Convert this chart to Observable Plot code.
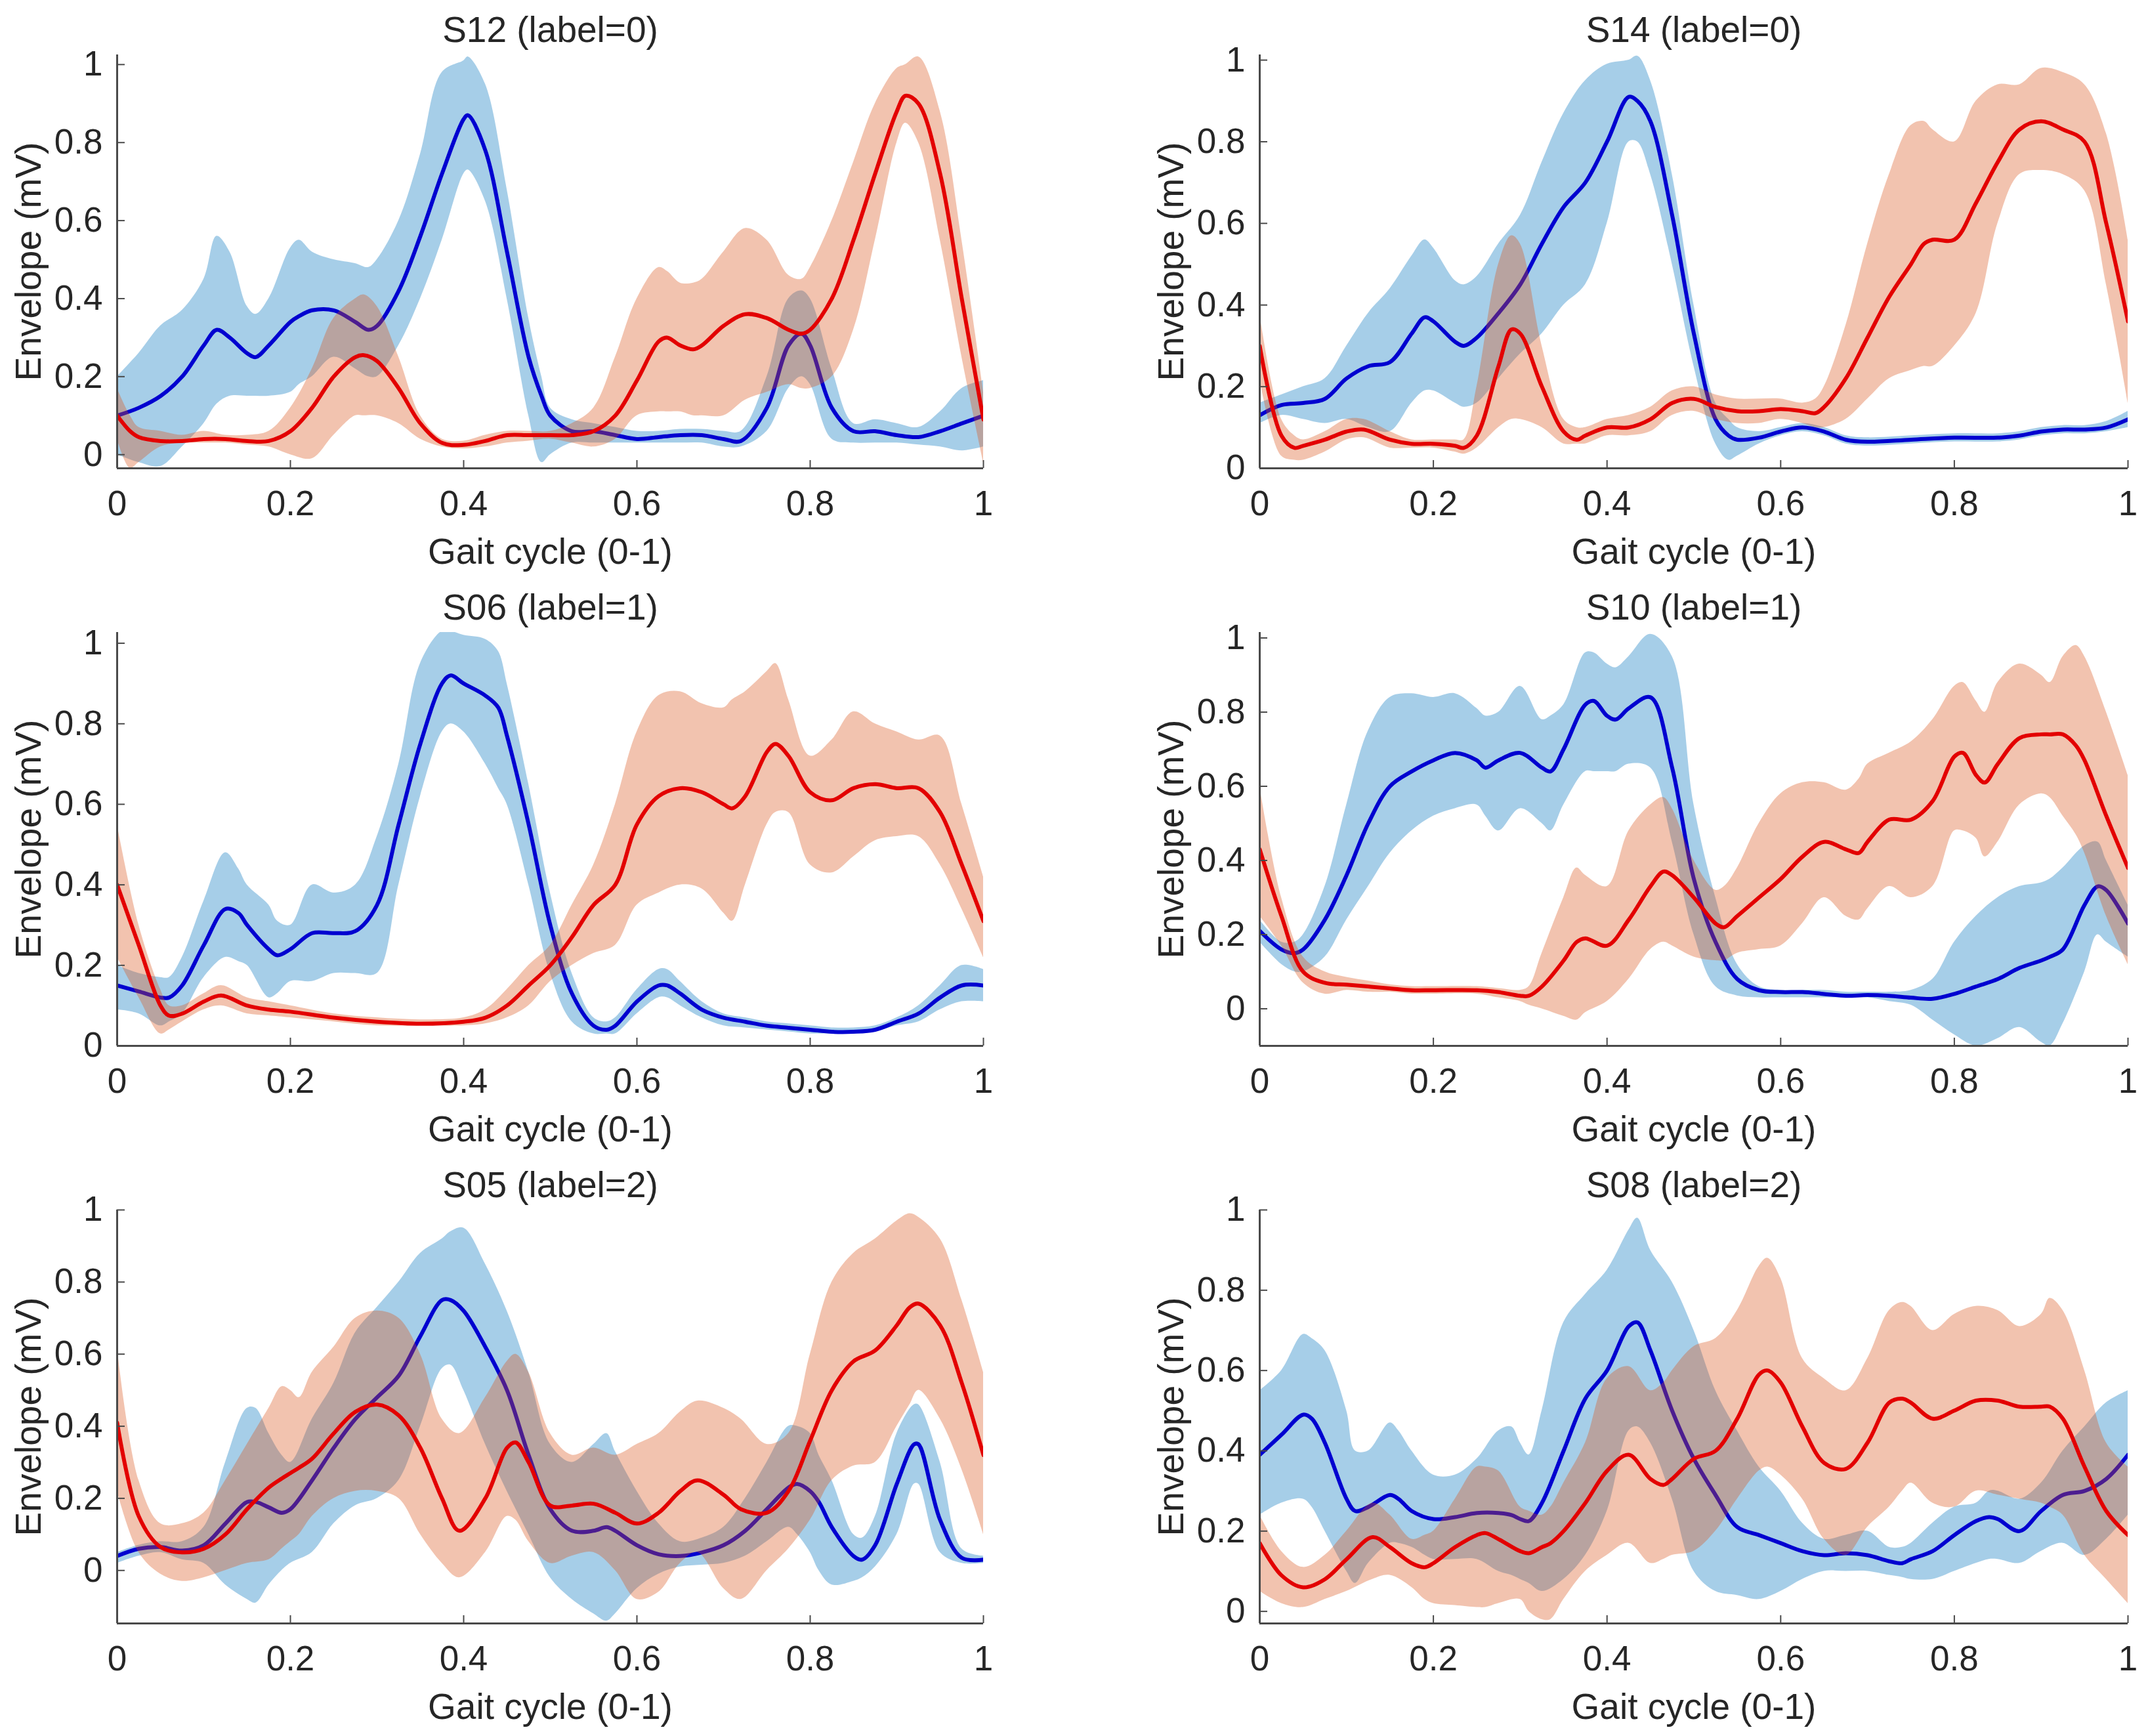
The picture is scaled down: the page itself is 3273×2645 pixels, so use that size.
<!DOCTYPE html>
<html>
<head>
<meta charset="utf-8">
<script src="https://cdn.jsdelivr.net/npm/d3@7"></script>
<script src="https://cdn.jsdelivr.net/npm/@observablehq/plot@0.6"></script>
<style>
  html, body { margin: 0; padding: 0; background: #fff; }
  #chart { position: relative; width: 3273px; height: 2645px; background: #fff; overflow: hidden; }
</style>
</head>
<body>
<div id="chart"></div>
<script>
// ---------- data: rows are [gait cycle, mean, lower band, upper band] ----------
const S12_blue = [
[0,.10,.00,.20],[.025,.12,-.02,.26],[.05,.15,-.03,.33],[.075,.20,.02,.37],[.1,.28,.08,.45],
[.115,.32,.13,.56],[.13,.30,.15,.52],[.15,.26,.15,.38],[.16,.25,.15,.36],[.175,.28,.15,.40],
[.2,.34,.16,.53],[.21,.355,.18,.55],[.225,.37,.20,.52],[.25,.37,.25,.50],[.275,.34,.22,.49],
[.29,.32,.20,.48],[.3,.33,.20,.50],[.325,.42,.28,.60],[.35,.56,.40,.77],[.375,.72,.55,.98],
[.4,.86,.72,1.01],[.405,.87,.73,1.02],[.425,.78,.65,.95],[.45,.52,.40,.68],[.475,.25,.10,.35],
[.49,.15,-.02,.20],[.5,.10,.00,.12],[.525,.06,.03,.09],[.55,.06,.03,.08],[.575,.05,.03,.07],
[.6,.04,.03,.06],[.625,.045,.03,.06],[.65,.05,.03,.065],[.675,.05,.03,.065],[.7,.04,.02,.06],
[.72,.035,.02,.06],[.75,.12,.06,.20],[.775,.28,.17,.40],[.79,.31,.20,.42],[.8,.28,.18,.40],
[.825,.12,.04,.22],[.85,.06,.03,.08],[.875,.06,.03,.09],[.9,.05,.03,.08],[.925,.045,.025,.07],
[.95,.06,.02,.11],[.975,.08,.01,.17],[1,.10,.02,.19]
];
const S12_red = [
[0,.10,.04,.17],[.015,.06,-.035,.10],[.025,.045,-.02,.07],[.05,.035,.02,.06],[.075,.035,.03,.05],
[.1,.04,.03,.06],[.125,.04,.03,.05],[.15,.035,.025,.05],[.175,.035,.02,.06],[.2,.06,.00,.12],
[.225,.12,-.01,.22],[.25,.20,.05,.35],[.275,.25,.10,.40],[.285,.255,.10,.41],[.3,.24,.10,.38],
[.325,.17,.08,.25],[.35,.08,.04,.10],[.375,.03,.02,.04],[.4,.025,.015,.035],[.425,.035,.02,.05],
[.45,.05,.03,.06],[.475,.05,.035,.06],[.5,.05,.04,.06],[.525,.05,.03,.08],[.55,.06,.02,.12],
[.575,.10,.04,.25],[.6,.19,.10,.40],[.625,.29,.11,.48],[.635,.30,.11,.47],[.65,.28,.11,.44],
[.665,.27,.10,.44],[.675,.28,.10,.45],[.7,.33,.10,.52],[.725,.36,.14,.58],[.75,.35,.16,.55],
[.775,.32,.18,.46],[.79,.31,.17,.45],[.8,.32,.17,.48],[.825,.40,.20,.60],[.85,.55,.32,.75],
[.875,.72,.55,.90],[.9,.88,.80,.99],[.91,.92,.85,1.0],[.925,.90,.80,1.02],[.95,.72,.55,.88],
[.975,.40,.25,.55],[1,.09,-.02,.16]
];
const S14_blue = [
[0,.13,.11,.16],[.025,.155,.13,.18],[.05,.16,.12,.20],[.075,.17,.11,.22],[.1,.22,.12,.30],
[.125,.25,.10,.38],[.15,.26,.09,.44],[.175,.33,.16,.52],[.19,.37,.19,.56],[.2,.36,.19,.54],
[.225,.31,.16,.46],[.235,.30,.15,.45],[.25,.32,.16,.47],[.275,.38,.22,.55],[.3,.45,.28,.62],
[.325,.55,.33,.75],[.35,.64,.40,.87],[.375,.70,.45,.95],[.4,.80,.60,.99],[.425,.91,.80,1.0],
[.435,.90,.80,1.01],[.45,.85,.72,.95],[.475,.62,.50,.72],[.5,.33,.25,.40],[.525,.12,.06,.16],
[.54,.08,.02,.12],[.55,.07,.03,.10],[.575,.075,.06,.09],[.6,.09,.08,.10],[.625,.10,.09,.11],
[.65,.09,.08,.10],[.675,.07,.06,.08],[.7,.065,.055,.075],[.75,.07,.06,.08],[.8,.075,.065,.085],
[.85,.075,.065,.085],[.875,.08,.07,.09],[.9,.09,.08,.10],[.925,.095,.085,.105],[.95,.095,.085,.105],
[.975,.10,.09,.115],[1,.12,.10,.14]
];
const S14_red = [
[0,.30,.22,.38],[.025,.08,.03,.12],[.04,.05,.02,.08],[.05,.055,.02,.07],[.075,.07,.04,.09],
[.1,.09,.07,.12],[.12,.095,.075,.12],[.15,.07,.05,.09],[.175,.06,.05,.07],[.2,.06,.05,.07],
[.225,.055,.04,.07],[.235,.05,.035,.07],[.25,.08,.05,.20],[.275,.25,.10,.50],[.29,.34,.12,.57],
[.3,.33,.12,.55],[.325,.20,.10,.30],[.35,.09,.06,.12],[.365,.07,.06,.10],[.375,.08,.06,.10],
[.4,.10,.08,.12],[.425,.10,.08,.13],[.45,.12,.09,.15],[.475,.16,.13,.19],[.5,.17,.14,.20],
[.525,.15,.12,.18],[.55,.14,.11,.17],[.575,.14,.11,.17],[.6,.145,.12,.17],[.625,.14,.11,.16],
[.64,.135,.10,.17],[.65,.15,.10,.20],[.675,.22,.12,.35],[.7,.32,.17,.55],[.725,.42,.22,.72],
[.75,.50,.24,.84],[.765,.55,.25,.85],[.775,.56,.25,.83],[.8,.56,.30,.80],[.825,.65,.38,.90],
[.85,.75,.60,.94],[.875,.83,.72,.94],[.9,.85,.73,.98],[.925,.83,.72,.97],[.95,.80,.68,.94],
[.975,.60,.45,.82],[1,.36,.16,.56]
];
const S06_blue = [
[0,.15,.09,.20],[.025,.135,.08,.18],[.05,.12,.05,.17],[.06,.12,.06,.17],[.075,.15,.08,.22],
[.1,.25,.17,.36],[.125,.34,.22,.48],[.14,.33,.21,.44],[.15,.30,.20,.40],[.175,.24,.12,.35],
[.185,.225,.13,.31],[.2,.24,.16,.30],[.225,.28,.16,.40],[.25,.28,.18,.38],[.275,.285,.18,.40],
[.3,.35,.18,.52],[.325,.55,.40,.70],[.35,.75,.62,.95],[.375,.90,.78,1.03],[.385,.92,.80,1.03],
[.4,.90,.78,1.02],[.425,.87,.70,1.01],[.44,.84,.64,.98],[.45,.77,.60,.90],[.475,.55,.40,.65],
[.5,.30,.18,.38],[.525,.13,.06,.18],[.55,.05,.03,.07],[.565,.04,.03,.06],[.575,.05,.03,.07],
[.6,.11,.08,.14],[.625,.15,.12,.19],[.635,.15,.12,.19],[.65,.13,.10,.16],[.675,.09,.07,.11],
[.7,.07,.05,.08],[.725,.06,.045,.07],[.75,.05,.04,.06],[.775,.045,.035,.055],[.8,.04,.03,.05],
[.825,.035,.03,.045],[.85,.035,.03,.045],[.875,.04,.035,.05],[.9,.06,.05,.07],[.925,.08,.06,.10],
[.95,.12,.09,.15],[.975,.15,.11,.20],[1,.15,.11,.19]
];
const S06_red = [
[0,.40,.22,.55],[.025,.25,.12,.30],[.05,.10,.03,.14],[.06,.075,.04,.10],[.075,.08,.06,.10],
[.1,.11,.09,.13],[.12,.125,.10,.15],[.15,.10,.08,.12],[.175,.09,.075,.11],[.2,.085,.07,.10],
[.25,.07,.06,.08],[.3,.06,.05,.07],[.35,.055,.05,.065],[.4,.06,.05,.07],[.425,.07,.055,.09],
[.45,.10,.07,.14],[.475,.15,.10,.20],[.5,.20,.16,.25],[.525,.27,.20,.35],[.55,.35,.23,.45],
[.575,.40,.25,.60],[.6,.55,.35,.78],[.625,.62,.38,.87],[.65,.64,.40,.88],[.675,.63,.39,.85],
[.7,.60,.33,.84],[.71,.59,.31,.86],[.725,.62,.40,.88],[.75,.73,.55,.93],[.76,.75,.58,.95],
[.775,.72,.58,.86],[.8,.63,.45,.72],[.825,.61,.43,.76],[.85,.64,.47,.83],[.875,.65,.51,.80],
[.9,.64,.52,.78],[.925,.64,.52,.76],[.95,.58,.45,.77],[.975,.45,.34,.60],[1,.31,.22,.42]
];
const S10_blue = [
[0,.21,.18,.24],[.025,.16,.12,.18],[.04,.15,.10,.18],[.05,.16,.10,.20],[.075,.24,.14,.33],
[.1,.36,.24,.55],[.125,.50,.33,.75],[.15,.60,.42,.84],[.175,.64,.48,.85],[.2,.67,.52,.84],
[.225,.69,.54,.85],[.25,.67,.55,.81],[.26,.65,.52,.79],[.275,.67,.48,.80],[.3,.69,.54,.87],
[.325,.65,.50,.78],[.335,.64,.48,.79],[.35,.70,.55,.82],[.375,.82,.64,.96],[.385,.83,.64,.96],
[.4,.79,.64,.93],[.41,.78,.64,.92],[.425,.81,.66,.95],[.45,.84,.65,1.01],[.475,.65,.45,.95],
[.5,.35,.20,.55],[.525,.18,.06,.30],[.55,.08,.035,.12],[.575,.05,.03,.06],[.6,.045,.03,.05],
[.625,.045,.03,.05],[.65,.04,.03,.05],[.675,.035,.03,.045],[.7,.037,.03,.045],[.725,.035,.02,.045],
[.75,.03,.01,.05],[.775,.027,-.03,.08],[.8,.04,-.07,.18],[.825,.06,-.10,.25],[.85,.08,-.08,.30],
[.875,.11,-.05,.33],[.9,.13,-.09,.34],[.91,.14,-.10,.35],[.925,.16,-.04,.38],[.95,.28,.10,.44],
[.965,.33,.20,.45],[.975,.32,.18,.40],[1,.23,.14,.28]
];
const S10_red = [
[0,.43,.25,.60],[.025,.25,.17,.30],[.05,.10,.07,.14],[.075,.07,.04,.10],[.1,.065,.05,.085],
[.125,.06,.045,.075],[.15,.055,.045,.065],[.175,.05,.04,.06],[.2,.05,.04,.06],[.25,.05,.04,.06],
[.275,.045,.03,.055],[.3,.035,.02,.05],[.31,.035,.01,.06],[.325,.06,.00,.15],[.35,.13,-.02,.30],
[.365,.18,-.03,.38],[.375,.19,-.01,.36],[.4,.17,.02,.33],[.425,.24,.08,.48],[.45,.33,.16,.55],
[.465,.37,.18,.57],[.475,.36,.17,.54],[.5,.30,.14,.40],[.525,.23,.13,.32],[.535,.22,.13,.33],
[.55,.25,.15,.38],[.575,.30,.16,.50],[.6,.35,.17,.58],[.625,.41,.23,.61],[.65,.45,.30,.61],
[.675,.43,.25,.59],[.69,.42,.24,.62],[.7,.45,.27,.66],[.725,.51,.33,.69],[.75,.51,.30,.72],
[.775,.56,.33,.78],[.8,.68,.48,.87],[.81,.69,.48,.88],[.825,.63,.46,.83],[.835,.61,.41,.80],
[.85,.66,.45,.88],[.875,.73,.55,.93],[.9,.74,.58,.90],[.91,.74,.57,.88],[.925,.74,.52,.95],
[.94,.71,.47,.98],[.95,.67,.42,.95],[.975,.52,.25,.80],[1,.38,.12,.63]
];
const S05_blue = [
[0,.04,.02,.05],[.025,.06,.04,.07],[.05,.065,.05,.08],[.075,.055,.03,.08],[.1,.07,.02,.12],
[.125,.13,-.04,.30],[.15,.19,-.08,.45],[.16,.19,-.09,.45],[.175,.175,-.04,.38],[.19,.16,.00,.32],
[.2,.17,.02,.30],[.225,.25,.05,.42],[.25,.34,.13,.52],[.275,.42,.18,.66],[.3,.48,.20,.73],
[.325,.54,.25,.80],[.35,.65,.40,.88],[.375,.75,.56,.92],[.385,.75,.57,.94],[.4,.72,.50,.95],
[.425,.62,.35,.85],[.45,.50,.22,.72],[.475,.32,.10,.55],[.5,.17,-.02,.35],[.525,.11,-.08,.30],
[.55,.11,-.12,.35],[.565,.12,-.14,.38],[.575,.11,-.12,.33],[.6,.07,-.05,.22],[.625,.045,-.01,.13],
[.65,.04,.01,.08],[.675,.05,.015,.09],[.7,.07,.02,.12],[.725,.11,.04,.20],[.75,.17,.08,.30],
[.775,.23,.12,.40],[.785,.24,.10,.40],[.8,.22,.05,.38],[.81,.19,.00,.32],[.825,.12,-.04,.25],
[.85,.04,-.03,.10],[.86,.03,-.02,.09],[.875,.07,.01,.15],[.9,.24,.10,.38],[.92,.35,.24,.46],
[.925,.35,.24,.46],[.95,.14,.05,.30],[.975,.035,.02,.06],[1,.03,.02,.04]
];
const S05_red = [
[0,.41,.22,.62],[.025,.15,.05,.25],[.05,.065,-.01,.13],[.075,.05,-.03,.13],[.1,.06,-.02,.16],
[.125,.10,.00,.25],[.15,.17,.02,.35],[.175,.23,.03,.45],[.19,.255,.06,.51],[.2,.27,.08,.50],
[.21,.285,.10,.48],[.225,.31,.15,.55],[.25,.38,.20,.62],[.275,.44,.22,.70],[.3,.46,.22,.72],
[.325,.43,.20,.70],[.35,.34,.10,.60],[.375,.20,.02,.42],[.395,.11,-.02,.38],[.425,.20,.05,.48],
[.45,.34,.15,.58],[.46,.355,.14,.60],[.475,.30,.08,.55],[.5,.18,.02,.38],[.525,.18,.04,.32],
[.55,.185,.05,.34],[.575,.16,.00,.32],[.6,.13,-.08,.35],[.625,.16,-.06,.38],[.65,.22,.02,.44],
[.67,.25,.05,.47],[.7,.21,-.05,.45],[.72,.17,-.08,.42],[.75,.16,.00,.35],[.775,.22,.06,.38],
[.8,.36,.14,.60],[.825,.50,.25,.80],[.85,.58,.29,.88],[.875,.61,.30,.92],[.9,.68,.40,.97],
[.915,.73,.46,.99],[.925,.74,.50,.98],[.95,.68,.42,.92],[.975,.52,.28,.75],[1,.32,.10,.55]
];
const S08_blue = [
[0,.39,.24,.55],[.025,.44,.27,.60],[.05,.49,.28,.69],[.06,.48,.26,.68],[.075,.42,.20,.65],
[.1,.28,.10,.50],[.11,.25,.07,.40],[.125,.26,.12,.40],[.15,.29,.17,.47],[.16,.28,.17,.45],
[.175,.25,.16,.40],[.2,.23,.13,.34],[.225,.235,.13,.34],[.25,.245,.13,.38],[.275,.245,.10,.45],
[.29,.24,.09,.46],[.3,.23,.08,.42],[.31,.225,.07,.39],[.325,.27,.05,.50],[.35,.40,.08,.72],
[.375,.53,.14,.79],[.4,.60,.25,.85],[.425,.71,.45,.95],[.435,.72,.46,.98],[.45,.65,.42,.90],
[.475,.50,.28,.82],[.5,.38,.10,.70],[.525,.29,.05,.55],[.55,.21,.04,.45],[.575,.19,.03,.36],
[.6,.17,.05,.30],[.625,.15,.08,.22],[.65,.14,.10,.18],[.675,.145,.10,.19],[.7,.14,.10,.20],
[.725,.125,.09,.16],[.74,.12,.085,.16],[.75,.13,.08,.17],[.775,.15,.08,.22],[.8,.19,.10,.26],
[.825,.225,.12,.27],[.84,.235,.13,.30],[.85,.23,.13,.30],[.875,.20,.12,.28],[.9,.25,.15,.32],
[.925,.29,.17,.40],[.95,.30,.14,.46],[.975,.33,.18,.52],[1,.39,.24,.55]
];
const S08_red = [
[0,.17,.05,.24],[.025,.09,.02,.15],[.05,.06,.01,.11],[.075,.08,.03,.14],[.1,.13,.05,.20],
[.13,.185,.08,.27],[.15,.16,.09,.24],[.175,.12,.06,.18],[.19,.11,.03,.19],[.2,.12,.02,.20],
[.225,.16,.015,.28],[.25,.19,.01,.36],[.26,.195,.01,.36],[.275,.18,.02,.35],[.3,.15,.03,.26],
[.31,.145,.00,.25],[.325,.16,-.02,.24],[.335,.17,-.02,.26],[.35,.20,.03,.32],[.375,.27,.10,.42],
[.4,.35,.14,.58],[.425,.39,.17,.61],[.45,.33,.12,.55],[.465,.315,.13,.57],[.475,.33,.14,.60],
[.5,.38,.15,.66],[.525,.40,.20,.68],[.55,.48,.28,.75],[.575,.59,.35,.86],[.585,.60,.36,.88],
[.6,.57,.34,.83],[.625,.46,.28,.63],[.65,.37,.18,.58],[.675,.355,.14,.55],[.7,.42,.21,.63],
[.725,.52,.26,.75],[.74,.53,.30,.77],[.75,.52,.32,.76],[.775,.48,.27,.70],[.8,.50,.26,.74],
[.825,.525,.30,.76],[.85,.525,.29,.75],[.875,.51,.28,.71],[.9,.51,.27,.74],[.91,.51,.26,.78],
[.925,.48,.24,.75],[.95,.36,.14,.60],[.975,.25,.08,.42],[1,.19,.02,.36]
];

const titles = ["S12 (label=0)", "S14 (label=0)", "S06 (label=1)", "S10 (label=1)", "S05 (label=2)", "S08 (label=2)"];
const blueSeries = [S12_blue, S14_blue, S06_blue, S10_blue, S05_blue, S08_blue];
const redSeries  = [S12_red,  S14_red,  S06_red,  S10_red,  S05_red,  S08_red];
const yDomains = [[-0.035, 1.025], [0, 1.013], [0, 1.027], [-0.10, 1.015], [-0.147, 1.0], [-0.03, 1.0]];
const tickValues = [0, 0.2, 0.4, 0.6, 0.8, 1];
const xLabel = "Gait cycle (0-1)";
const yLabel = "Envelope (mV)";

// ---------- styling ----------
const BLUE_BAND = "#0072BD", RED_BAND = "#D95319";
const BLUE_LINE = "#0000d0", RED_LINE = "#e30000";
const AXIS = "#4a4a4a", TEXT = "#262626";
const FONT = "'Liberation Sans', Arial, Helvetica, sans-serif";

const chart = document.getElementById("chart");
const W = [1636, 1637];
const ML = [178, 283], MR = [138, 31];

titles.forEach((title, i) => {
  const col = i % 2, row = Math.floor(i / 2);
  const yd = yDomains[i];
  const fx = d => d[0];
  const svg = Plot.plot({
    width: W[col], height: 880,
    marginLeft: ML[col], marginRight: MR[col], marginTop: 83, marginBottom: 167,
    x: {domain: [0, 1]},
    y: {domain: yd},
    style: {fontFamily: FONT, fontSize: "53px", color: TEXT, background: "transparent", overflow: "visible"},
    marks: [
      Plot.areaY(blueSeries[i], {x: fx, y1: d => d[2], y2: d => d[3], fill: BLUE_BAND, fillOpacity: 0.35, curve: "catmull-rom", clip: true}),
      Plot.line(blueSeries[i], {x: fx, y: d => d[1], stroke: BLUE_LINE, strokeWidth: 6, curve: "catmull-rom", clip: true}),
      Plot.areaY(redSeries[i], {x: fx, y1: d => d[2], y2: d => d[3], fill: RED_BAND, fillOpacity: 0.35, curve: "catmull-rom", clip: true}),
      Plot.line(redSeries[i], {x: fx, y: d => d[1], stroke: RED_LINE, strokeWidth: 6, curve: "catmull-rom", clip: true}),
      Plot.ruleX([0], {stroke: AXIS, strokeWidth: 3}),
      Plot.ruleY([yd[0]], {stroke: AXIS, strokeWidth: 3}),
      Plot.axisX(tickValues, {tickSize: -12, tickPadding: 46, tickFormat: d => String(d), stroke: AXIS, strokeWidth: 2, fill: TEXT, fontSize: 53, label: null}),
      Plot.axisY(tickValues, {tickSize: -12, tickPadding: 34, tickFormat: d => String(d), stroke: AXIS, strokeWidth: 2, fill: TEXT, fontSize: 53, label: null}),
      Plot.text([title], {text: d => d, frameAnchor: "top", lineAnchor: "middle", textAnchor: "middle", dy: -37, fontSize: 55, fill: TEXT}),
      Plot.text([xLabel], {text: d => d, frameAnchor: "bottom", lineAnchor: "middle", textAnchor: "middle", dy: 128, fontSize: 55, fill: TEXT}),
      Plot.text([yLabel], {text: d => d, frameAnchor: "left", lineAnchor: "middle", textAnchor: "middle", dx: -134, rotate: -90, fontSize: 55, fill: TEXT})
    ]
  });
  svg.style.position = "absolute";
  svg.style.left = (col === 0 ? 0 : 1636) + "px";
  svg.style.top = (row * 880) + "px";
  chart.appendChild(svg);
});
</script>
</body>
</html>
